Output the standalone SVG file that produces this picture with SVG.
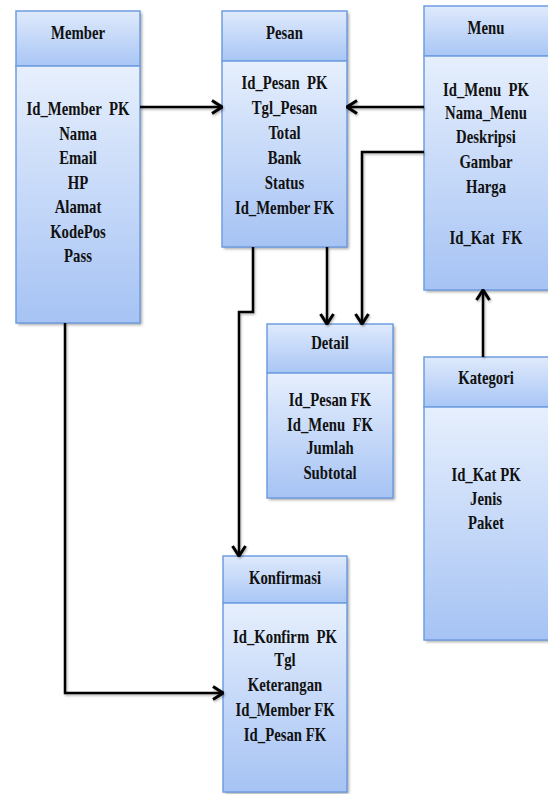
<svg xmlns="http://www.w3.org/2000/svg" width="548" height="794" viewBox="0 0 548 794">
<defs>
<linearGradient id="gh" x1="0" y1="0" x2="0" y2="1"><stop offset="0" stop-color="#dfeafc"/><stop offset="1" stop-color="#a9c6f5"/></linearGradient>
<linearGradient id="gb" x1="0" y1="0" x2="0" y2="1"><stop offset="0" stop-color="#e6effd"/><stop offset="1" stop-color="#a6c3f4"/></linearGradient>
<filter id="sh" x="-10%" y="-10%" width="130%" height="130%"><feDropShadow dx="2" dy="2" stdDeviation="1.5" flood-color="#000" flood-opacity="0.35"/></filter>
<filter id="lsh" filterUnits="userSpaceOnUse" x="0" y="0" width="548" height="794"><feDropShadow dx="1" dy="1.5" stdDeviation="1" flood-color="#000" flood-opacity="0.3"/></filter>
<marker id="arr" markerUnits="userSpaceOnUse" viewBox="0 0 12 16" refX="11" refY="8" markerWidth="12" markerHeight="16" orient="auto"><path d="M1,1.5 L11,8 L1,14.5" fill="none" stroke="#000" stroke-width="3"/></marker>
</defs>
<style>
.hd{fill:url(#gh);stroke:#6f9ddf;stroke-width:1.5}
.bd{fill:url(#gb);stroke:#6f9ddf;stroke-width:1.5}
.sh{filter:url(#sh)}
text{font-family:"Liberation Serif","Times New Roman",serif;font-weight:bold;font-size:18px;fill:#111;text-anchor:middle;white-space:pre}
.c{fill:none;stroke:#000;stroke-width:2.5;marker-end:url(#arr);filter:url(#lsh)}
</style>
<rect width="548" height="794" fill="#fff"/>

<g id="member">
<rect class="sh" x="16" y="11" width="124" height="312" fill="#a6c3f4"/>
<rect class="hd" x="16" y="11" width="124" height="55"/>
<rect class="bd" x="16" y="66" width="124" height="257"/>
<text transform="translate(78,39) scale(0.82,1)">Member</text>
<text transform="translate(78,115) scale(0.82,1)">Id_Member  PK</text>
<text transform="translate(78,139.5) scale(0.82,1)">Nama</text>
<text transform="translate(78,164) scale(0.82,1)">Email</text>
<text transform="translate(78,188.5) scale(0.82,1)">HP</text>
<text transform="translate(78,213) scale(0.82,1)">Alamat</text>
<text transform="translate(78,237.5) scale(0.82,1)">KodePos</text>
<text transform="translate(78,262) scale(0.82,1)">Pass</text>
</g>

<g id="pesan">
<rect class="sh" x="222" y="11" width="125" height="236" fill="#a6c3f4"/>
<rect class="hd" x="222" y="11" width="125" height="50"/>
<rect class="bd" x="222" y="61" width="125" height="186"/>
<text transform="translate(284.5,39) scale(0.82,1)">Pesan</text>
<text transform="translate(284.5,89) scale(0.82,1)">Id_Pesan  PK</text>
<text transform="translate(284.5,114) scale(0.82,1)">Tgl_Pesan</text>
<text transform="translate(284.5,139) scale(0.82,1)">Total</text>
<text transform="translate(284.5,164) scale(0.82,1)">Bank</text>
<text transform="translate(284.5,189) scale(0.82,1)">Status</text>
<text transform="translate(284.5,214) scale(0.82,1)">Id_Member FK</text>
</g>

<g id="menu">
<rect class="sh" x="424" y="6" width="128" height="284" fill="#a6c3f4"/>
<rect class="hd" x="424" y="6" width="128" height="50"/>
<rect class="bd" x="424" y="56" width="128" height="234"/>
<text transform="translate(486,34) scale(0.82,1)">Menu</text>
<text transform="translate(486,96) scale(0.82,1)">Id_Menu  PK</text>
<text transform="translate(486,119) scale(0.82,1)">Nama_Menu</text>
<text transform="translate(486,143) scale(0.82,1)">Deskripsi</text>
<text transform="translate(486,168) scale(0.82,1)">Gambar</text>
<text transform="translate(486,193) scale(0.82,1)">Harga</text>
<text transform="translate(486,244) scale(0.82,1)">Id_Kat  FK</text>
</g>

<g id="detail">
<rect class="sh" x="267" y="324" width="126" height="174" fill="#a6c3f4"/>
<rect class="hd" x="267" y="324" width="126" height="49"/>
<rect class="bd" x="267" y="373" width="126" height="125"/>
<text transform="translate(330,349) scale(0.82,1)">Detail</text>
<text transform="translate(330,406) scale(0.82,1)">Id_Pesan FK</text>
<text transform="translate(330,431) scale(0.82,1)">Id_Menu  FK</text>
<text transform="translate(330,454) scale(0.82,1)">Jumlah</text>
<text transform="translate(330,479) scale(0.82,1)">Subtotal</text>
</g>

<g id="kategori">
<rect class="sh" x="424" y="357" width="128" height="283" fill="#a6c3f4"/>
<rect class="hd" x="424" y="357" width="128" height="50"/>
<rect class="bd" x="424" y="407" width="128" height="233"/>
<text transform="translate(486,384) scale(0.82,1)">Kategori</text>
<text transform="translate(486,481) scale(0.82,1)">Id_Kat PK</text>
<text transform="translate(486,505) scale(0.82,1)">Jenis</text>
<text transform="translate(486,529) scale(0.82,1)">Paket</text>
</g>

<g id="konfirmasi">
<rect class="sh" x="223" y="556" width="124" height="236" fill="#a6c3f4"/>
<rect class="hd" x="223" y="556" width="124" height="47"/>
<rect class="bd" x="223" y="603" width="124" height="189"/>
<text transform="translate(285,584) scale(0.82,1)">Konfirmasi</text>
<text transform="translate(285,643) scale(0.82,1)">Id_Konfirm  PK</text>
<text transform="translate(285,666) scale(0.82,1)">Tgl</text>
<text transform="translate(285,691) scale(0.82,1)">Keterangan</text>
<text transform="translate(285,716) scale(0.82,1)">Id_Member FK</text>
<text transform="translate(285,741) scale(0.82,1)">Id_Pesan FK</text>
</g>

<g id="connectors">
<path class="c" d="M140,107 H222"/>
<path class="c" d="M424,107 H347"/>
<path class="c" d="M424,152 H362 V324"/>
<path class="c" d="M327,247 V324"/>
<path class="c" d="M253,247 V312 H239 V556"/>
<path class="c" d="M65,323 V693 H223"/>
<path class="c" d="M483,357 V290"/>
</g>
</svg>
